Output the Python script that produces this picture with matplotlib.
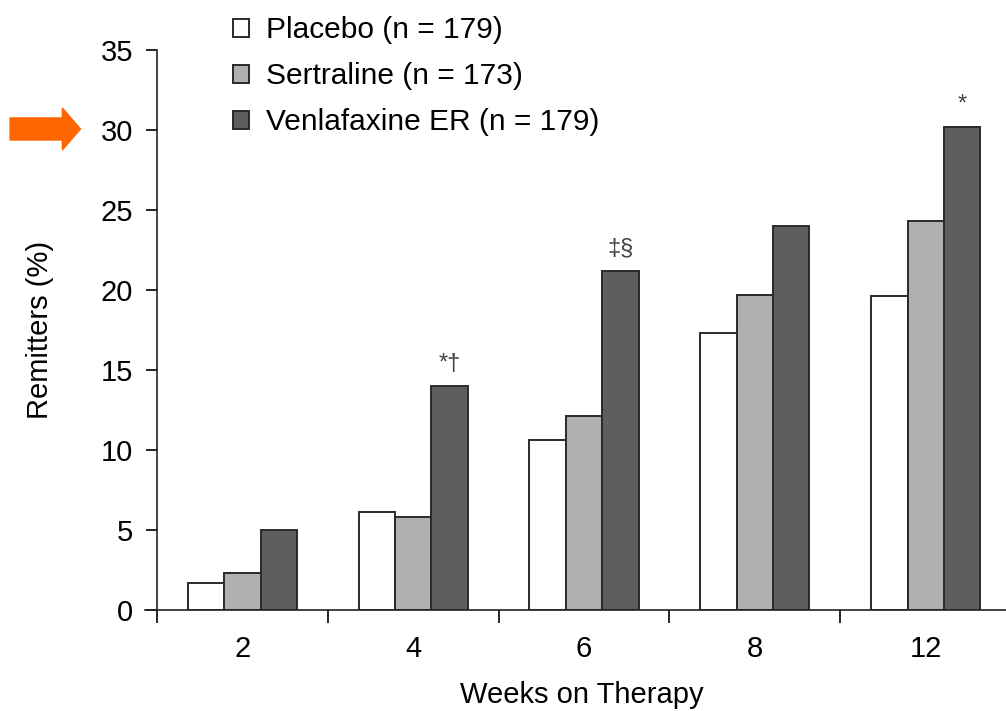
import numpy as np
import matplotlib
matplotlib.use("Agg")
from matplotlib import pyplot as plt
from matplotlib.patches import FancyArrow

plt.rcParams['font.family'] = ['Liberation Sans', 'DejaVu Sans']

weeks = ["2", "4", "6", "8", "12"]
placebo = [1.7, 6.1, 10.6, 17.3, 19.6]
sertraline = [2.3, 5.8, 12.1, 19.7, 24.3]
venlafaxine = [5.0, 14.0, 21.2, 24.0, 30.2]
labels = ["Placebo (n = 179)", "Sertraline (n = 173)", "Venlafaxine ER (n = 179)"]
marks = ["", "*\u2020", "\u2021\u00a7", "", "*"]

fig = plt.figure(figsize=(10.06, 7.11), dpi=100)
ax = fig.add_axes([0.156, 0.142, 0.844, 0.788])

x = np.arange(len(weeks))
w = 0.213
edge = "#2a2a2a"
b1 = ax.bar(x - w, placebo, w, color="white", edgecolor=edge, linewidth=1.4)
b2 = ax.bar(x, sertraline, w, color="#b0b0b0", edgecolor=edge, linewidth=1.4)
b3 = ax.bar(x + w, venlafaxine, w, color="#5e5e5e", edgecolor=edge, linewidth=1.4)

for xi, v, m in zip(x, venlafaxine, marks):
    if m:
        ax.annotate(m, (xi + w, v), xytext=(0, 8), textcoords="offset points",
                    ha="center", va="bottom", fontsize=17, color="#444444")

ax.set_xlim(-0.5, 4.47)
ax.set_ylim(0, 35)
ax.set_yticks(np.arange(0, 36, 5))
ax.set_xticks(x)
ax.set_xticklabels(weeks)
ax.set_xticks(np.arange(-0.5, 4.5, 1), minor=True)
ax.tick_params(axis="x", which="major", length=0, pad=18, labelsize=21)
ax.tick_params(axis="x", which="minor", length=9, width=1.2, direction="out")
ax.tick_params(axis="y", length=8, width=1.2, pad=9, labelsize=21)
for s in ["top", "right"]:
    ax.spines[s].set_visible(False)
for s in ["left", "bottom"]:
    ax.spines[s].set_linewidth(1.2)
    ax.spines[s].set_color("#222222")
ax.spines["bottom"].set_bounds(-0.57, 4.47)

ax.set_ylabel("Remitters (%)", fontsize=21, labelpad=34)
ax.set_xlabel("Weeks on Therapy", fontsize=21, labelpad=13)

fig.legend([b1, b2, b3], labels, loc="upper left", bbox_to_anchor=(0.2316, 0.977),
           frameon=False, fontsize=21.5, handlelength=0.55, handleheight=0.55,
           handletextpad=0.55, labelspacing=0.6, borderpad=0, borderaxespad=0)

fig.patches.append(FancyArrow(0.010, 0.8186, 0.070, 0, width=0.031, head_width=0.059,
                              head_length=0.018, length_includes_head=True,
                              color="#ff6600", transform=fig.transFigure, figure=fig))

fig.savefig("out.png", dpi=100)
